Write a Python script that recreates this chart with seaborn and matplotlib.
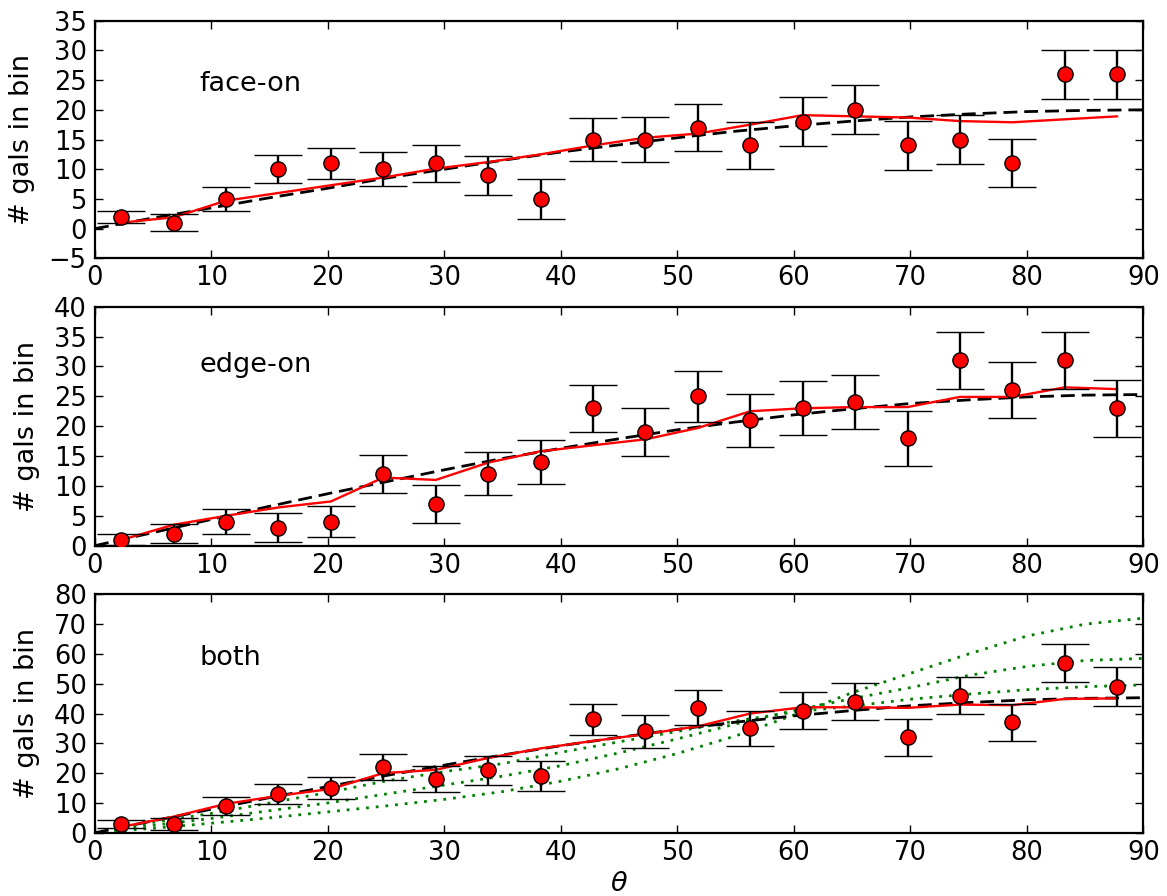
import matplotlib
matplotlib.use("Agg")
import matplotlib.pyplot as plt
import numpy as np
import pandas as pd
import seaborn as sns

# ---------------- data ----------------
theta_bins = [2.25, 6.75, 11.25, 15.75, 20.25, 24.75, 29.25, 33.75, 38.25, 42.75,
              47.25, 51.75, 56.25, 60.75, 65.25, 69.75, 74.25, 78.75, 83.25, 87.75]

face_counts = [2, 1, 5, 10, 11, 10, 11, 9, 5, 15, 15, 17, 14, 18, 20, 14, 15, 11, 26, 26]
face_err = [1.0, 1.4, 2.0, 2.35, 2.6, 2.9, 3.1, 3.3, 3.35, 3.6,
            3.8, 3.9, 4.0, 4.15, 4.15, 4.15, 4.05, 4.05, 4.1, 4.15]
face_model = [1.0, 1.9, 4.7, 6.0, 7.3, 8.6, 10.1, 11.2, 12.5, 14.0,
              15.3, 16.0, 17.5, 19.1, 18.9, 18.7, 18.1, 17.9, 18.4, 18.9]

edge_counts = [1, 2, 4, 3, 4, 12, 7, 12, 14, 23, 19, 25, 21, 23, 24, 18, 31, 26, 31, 23]
edge_err = [0.9, 1.6, 2.1, 2.45, 2.6, 3.25, 3.2, 3.6, 3.75, 3.9,
            4.05, 4.25, 4.45, 4.55, 4.55, 4.6, 4.7, 4.7, 4.7, 4.8]
edge_model = [0.95, 3.5, 5.0, 6.4, 7.4, 11.4, 11.0, 13.9, 15.8, 16.8,
              17.8, 19.7, 22.5, 23.0, 23.2, 23.2, 24.9, 24.9, 26.5, 26.2]

both_counts = [3, 3, 9, 13, 15, 22, 18, 21, 19, 38, 34, 42, 35, 41, 44, 32, 46, 37, 57, 49]
both_err = [1.4, 2.1, 3.0, 3.45, 3.75, 4.35, 4.45, 4.85, 5.1, 5.25,
            5.5, 5.8, 5.95, 6.15, 6.15, 6.2, 6.25, 6.2, 6.3, 6.45]
both_model = [1.95, 5.4, 9.7, 12.4, 14.7, 20.0, 21.1, 25.1, 28.3, 30.8,
              33.1, 35.7, 40.0, 42.1, 42.1, 41.9, 43.0, 42.8, 44.9, 45.1]

theta_curve = [0, 5, 10, 15, 20, 25, 30, 35, 40, 45, 50, 55, 60, 65, 70, 75, 80, 85, 90]
face_dashed = [0.0, 1.8, 3.5, 5.2, 6.8, 8.5, 10.0, 11.5, 12.9, 14.1,
               15.3, 16.4, 17.3, 18.1, 18.8, 19.3, 19.7, 19.9, 20.0]
edge_dashed = [0.0, 2.2, 4.4, 6.6, 8.7, 10.7, 12.7, 14.6, 16.3, 17.9,
               19.4, 20.7, 21.9, 22.9, 23.8, 24.4, 24.9, 25.2, 25.3]
both_dashed = [0.0, 4.0, 7.9, 11.8, 15.5, 19.2, 22.7, 26.1, 29.2, 32.0,
               34.7, 37.1, 39.2, 41.0, 42.6, 43.7, 44.6, 45.1, 45.3]

green_a = [0.0, 1.5, 3.2, 5.0, 7.0, 9.0, 11.2, 13.8, 17.3, 21.5,
           26.6, 32.5, 39.5, 47.0, 53.5, 60.0, 66.0, 70.0, 72.0]
green_b = [0.0, 2.5, 4.8, 7.4, 10.0, 13.0, 16.0, 19.0, 22.5, 26.8,
           31.5, 36.5, 41.0, 45.0, 48.7, 52.8, 55.8, 57.8, 58.5]
green_c = [0.0, 3.5, 6.5, 10.0, 13.5, 17.4, 20.5, 23.2, 27.0, 30.5,
           34.0, 37.5, 40.5, 42.5, 44.8, 46.5, 48.0, 49.0, 49.6]

panel_labels = ["face-on", "edge-on", "both"]
panel_ylims = [(-5, 35), (0, 40), (0, 80)]
panel_yticks = [list(range(-5, 36, 5)), list(range(0, 41, 5)), list(range(0, 81, 10))]
xticks = list(range(0, 91, 10))
ylabel_text = "# gals in bin"
xlabel_text = r"$\theta$"

# ---------------- style ----------------
sns.set_style("ticks")
plt.rcParams["font.family"] = ["DejaVu Sans"]
plt.rcParams["mathtext.fontset"] = "dejavusans"
for key in ("text.color", "axes.labelcolor", "xtick.color", "ytick.color", "axes.edgecolor"):
    plt.rcParams[key] = "black"

fig = plt.figure(figsize=(11.67, 8.96), dpi=100)
left, width = 0.0814, 0.8984
rects = [(left, 0.7117, width, 0.2652),
         (left, 0.3910, width, 0.2667),
         (left, 0.0706, width, 0.2661)]
label_y = [0.704, 0.726, 0.704]

panels = [
    (face_counts, face_err, face_model, face_dashed),
    (edge_counts, edge_err, edge_model, edge_dashed),
    (both_counts, both_err, both_model, both_dashed),
]

tick_fs = 18.5
text_fs = 19.5

for i, (counts, err, model, dashed) in enumerate(panels):
    ax = fig.add_axes(rects[i])
    pts = pd.DataFrame({"theta": theta_bins, "n": counts, "model": model})
    crv = pd.DataFrame({"theta": theta_curve, "dashed": dashed})

    if i == 2:
        for g in (green_a, green_b, green_c):
            gdf = pd.DataFrame({"theta": theta_curve, "g": g})
            sns.lineplot(data=gdf, x="theta", y="g", ax=ax, color="green",
                         linewidth=2.0, linestyle=(0, (1, 2.5)), zorder=1)

    sns.lineplot(data=crv, x="theta", y="dashed", ax=ax, color="black",
                 linewidth=2.0, linestyle=(0, (5, 2.5)), zorder=2)
    sns.lineplot(data=pts, x="theta", y="model", ax=ax, color="red",
                 linewidth=1.7, zorder=3)
    ax.errorbar(theta_bins, counts, yerr=err, fmt="none", ecolor="black",
                elinewidth=1.7, capsize=17, capthick=1.0, zorder=4)
    sns.scatterplot(data=pts, x="theta", y="n", ax=ax, color="red",
                    edgecolor="black", linewidth=1.0, s=120, zorder=5)

    ax.set_xlim(0, 90)
    ax.set_ylim(*panel_ylims[i])
    ax.set_xticks(xticks)
    ax.set_yticks(panel_yticks[i])
    ax.tick_params(direction="in", top=True, right=True, length=6, width=1,
                   labelsize=tick_fs, color="black", labelcolor="black")
    ax.tick_params(axis="x", pad=5)
    ax.tick_params(axis="y", pad=6)
    for sp in ax.spines.values():
        sp.set_linewidth(1.6)
        sp.set_color("black")
    ax.set_ylabel(ylabel_text, fontsize=text_fs, labelpad=10)
    ax.set_xlabel(xlabel_text if i == 2 else "", fontsize=text_fs, labelpad=3.5)
    ax.text(0.1, label_y[i], panel_labels[i], transform=ax.transAxes,
            fontsize=text_fs, ha="left", va="baseline")
    leg = ax.get_legend()
    if leg is not None:
        leg.remove()

fig.savefig("out.png", dpi=100)
